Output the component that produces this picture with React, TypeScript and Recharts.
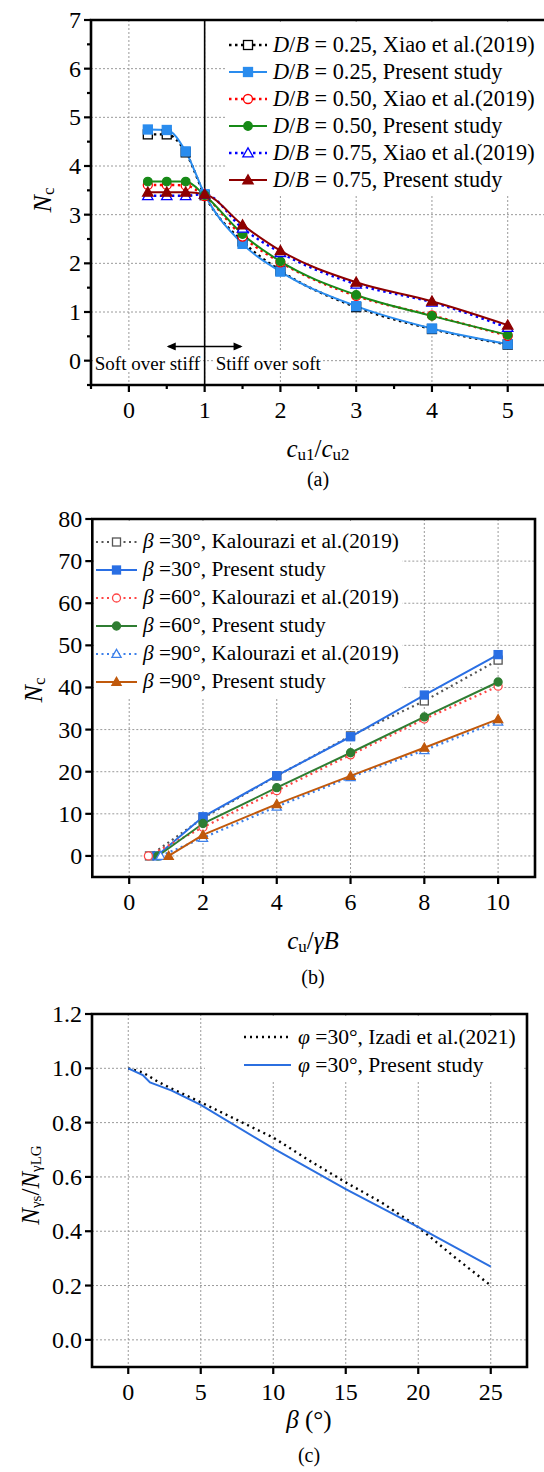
import React from 'react'
import {
  LineChart,
  Line,
  XAxis,
  YAxis,
  CartesianGrid,
  ReferenceLine,
  ReferenceDot,
  ReferenceArea,
  Legend,
} from 'recharts'

// Three stacked panels: (a) Nc vs cu1/cu2, (b) Nc vs cu/γB, (c) Nγs/NγLG vs β

const FONT = '"Liberation Serif", "Times New Roman", serif'
const GRID = '#9a9a9a'

// (a)
const ratioA = [0.25, 0.5, 0.75, 1, 1.5, 2, 3, 4, 5]
const xiao025 = [4.65, 4.65, 4.28, 3.4, 2.45, 1.85, 1.1, 0.65, 0.33]
const present025 = [4.75, 4.74, 4.3, 3.42, 2.4, 1.83, 1.12, 0.66, 0.34]
const xiao050 = [3.61, 3.61, 3.6, 3.38, 2.55, 2.02, 1.33, 0.93, 0.51]
const present050 = [3.68, 3.68, 3.68, 3.4, 2.6, 2.04, 1.35, 0.92, 0.53]
const xiao075 = [3.39, 3.39, 3.39, 3.42, 2.72, 2.22, 1.57, 1.2, 0.68]
const present075 = [3.46, 3.46, 3.46, 3.42, 2.79, 2.26, 1.61, 1.22, 0.73]
const xTicksA = [-0.5, 0, 0.5, 1, 1.5, 2, 2.5, 3, 3.5, 4, 4.5, 5, 5.5]
const yTicksA = [-0.5, 0, 0.5, 1, 1.5, 2, 2.5, 3, 3.5, 4, 4.5, 5, 5.5, 6, 6.5, 7]

// (b)
const kal30X = [0.55, 2, 4, 6, 8, 10]
const kal30Y = [0, 9.0, 19.0, 28.5, 36.8, 46.5]
const pre30X = [0.75, 2, 4, 6, 8, 10]
const pre30Y = [0, 9.3, 19.05, 28.3, 38.2, 47.8]
const kal60X = [0.52, 2, 4, 6, 8, 10]
const kal60Y = [0, 6.8, 15.5, 24.0, 32.5, 40.3]
const pre60X = [0.78, 2, 4, 6, 8, 10]
const pre60Y = [0, 7.7, 16.2, 24.5, 33.0, 41.3]
const kal90X = [0.85, 2, 4, 6, 8, 10]
const kal90Y = [0, 4.3, 11.7, 18.7, 25.1, 31.9]
const pre90X = [1.07, 2, 4, 6, 8, 10]
const pre90Y = [0, 5.0, 12.3, 19.0, 25.7, 32.5]
const xTicksB = [0, 2, 4, 6, 8, 10]
const yTicksB = [0, 10, 20, 30, 40, 50, 60, 70, 80]

// (c)
const betaIzadi = [0, 1, 2, 3, 5, 7.5, 10, 12.5, 15, 17.5, 20, 22.5, 25]
const ratioIzadi = [1.0, 0.985, 0.952, 0.925, 0.875, 0.81, 0.745, 0.66, 0.58, 0.505, 0.415, 0.305, 0.2]
const betaPresent = [0, 1, 1.5, 2, 3, 5, 10, 15, 20, 25]
const ratioPresent = [1.0, 0.975, 0.948, 0.938, 0.918, 0.865, 0.705, 0.555, 0.415, 0.27]
const xTicksC = [0, 5, 10, 15, 20, 25]
const yTicksC = [0, 0.2, 0.4, 0.6, 0.8, 1.0, 1.2]

const tableA = ratioA.map((r, i) => ({
  r,
  xiao025: xiao025[i],
  present025: present025[i],
  xiao050: xiao050[i],
  present050: present050[i],
  xiao075: xiao075[i],
  present075: present075[i],
}))

const pts = (xs: number[], ys: number[]) => xs.map((x, i) => ({ x, y: ys[i] }))

type Shape = 'square' | 'circle' | 'triangle' | null
type Series = {
  key: string
  color: string
  dash?: string
  width: number
  shape: Shape
  open: boolean
  size: number
  label: React.ReactNode
  data?: { x: number; y: number }[]
}

function Mark({ cx, cy, shape, color, open, size }: any) {
  if (cx == null || cy == null || !shape) return null
  const fill = open ? '#fff' : color
  const h = size / 2
  if (shape === 'square')
    return <rect x={cx - h} y={cy - h} width={size} height={size} fill={fill} stroke={color} strokeWidth={1.3} />
  if (shape === 'circle') return <circle cx={cx} cy={cy} r={h} fill={fill} stroke={color} strokeWidth={1.3} />
  const t = h * 1.15
  return (
    <polygon
      points={`${cx},${cy - t} ${cx - t},${cy + t * 0.75} ${cx + t},${cy + t * 0.75}`}
      fill={fill}
      stroke={color}
      strokeWidth={1.3}
    />
  )
}

const dotFor = (s: Series) => (p: any) =>
  <Mark key={`${s.key}-${p.index}`} cx={p.cx} cy={p.cy} shape={s.shape} color={s.color} open={s.open} size={s.size} />

const DB = (v: string, src: string) => (
  <>
    <i>D</i>/<i>B</i> = {v}, {src}
  </>
)
const BETA = (v: string, src: string) => (
  <>
    <i>β</i> ={v}°, {src}
  </>
)

const seriesA: Series[] = [
  { key: 'xiao025', color: '#000', dash: '2.5 3.5', width: 2.4, shape: 'square', open: true, size: 9, label: DB('0.25', 'Xiao et al.(2019)') },
  { key: 'present025', color: '#2a8cee', width: 2, shape: 'square', open: false, size: 9, label: DB('0.25', 'Present study') },
  { key: 'xiao050', color: '#ff0000', dash: '2.5 3.5', width: 2.4, shape: 'circle', open: true, size: 9, label: DB('0.50', 'Xiao et al.(2019)') },
  { key: 'present050', color: '#178a17', width: 2, shape: 'circle', open: false, size: 8.5, label: DB('0.50', 'Present study') },
  { key: 'xiao075', color: '#0000ff', dash: '2.5 3.5', width: 2.4, shape: 'triangle', open: true, size: 9, label: DB('0.75', 'Xiao et al.(2019)') },
  { key: 'present075', color: '#8e0000', width: 2, shape: 'triangle', open: false, size: 9, label: DB('0.75', 'Present study') },
]

const seriesB: Series[] = [
  { key: 'k30', color: '#555', dash: '2 3.5', width: 2.2, shape: 'square', open: true, size: 8, label: BETA('30', 'Kalourazi et al.(2019)'), data: pts(kal30X, kal30Y) },
  { key: 'p30', color: '#2a6fe4', width: 2, shape: 'square', open: false, size: 8, label: BETA('30', 'Present study'), data: pts(pre30X, pre30Y) },
  { key: 'k60', color: '#ff4545', dash: '2 3.5', width: 2.2, shape: 'circle', open: true, size: 8, label: BETA('60', 'Kalourazi et al.(2019)'), data: pts(kal60X, kal60Y) },
  { key: 'p60', color: '#2f7d32', width: 2, shape: 'circle', open: false, size: 8, label: BETA('60', 'Present study'), data: pts(pre60X, pre60Y) },
  { key: 'k90', color: '#3d80ea', dash: '2 3.5', width: 2.2, shape: 'triangle', open: true, size: 8, label: BETA('90', 'Kalourazi et al.(2019)'), data: pts(kal90X, kal90Y) },
  { key: 'p90', color: '#c0590c', width: 2, shape: 'triangle', open: false, size: 8, label: BETA('90', 'Present study'), data: pts(pre90X, pre90Y) },
]

const seriesC: Series[] = [
  {
    key: 'izadi', color: '#000', dash: '2 4', width: 2.4, shape: null, open: false, size: 0,
    label: (<><i>φ</i> =30°, Izadi et al.(2021)</>), data: pts(betaIzadi, ratioIzadi),
  },
  {
    key: 'present', color: '#2b6fe0', width: 2, shape: null, open: false, size: 0,
    label: (<><i>φ</i> =30°, Present study</>), data: pts(betaPresent, ratioPresent),
  },
]

function LegendBox({ items, rowH, symW, gap, fontSize, padTop, padLeft }: any) {
  return (
    <div style={{ background: '#fff', width: '100%', height: '100%', boxSizing: 'border-box', paddingTop: padTop, paddingLeft: padLeft, fontFamily: FONT, fontSize, color: '#000' }}>
      {items.map((s: Series) => (
        <div key={s.key} style={{ display: 'flex', alignItems: 'center', height: rowH, whiteSpace: 'nowrap' }}>
          <svg width={symW} height={16} style={{ flex: 'none', marginRight: gap }}>
            <line x1={1} x2={symW - 1} y1={8} y2={8} stroke={s.color} strokeWidth={s.width} strokeDasharray={s.dash} />
            <Mark cx={symW / 2} cy={8} shape={s.shape} color={s.color} open={s.open} size={s.size} />
          </svg>
          <span>{s.label}</span>
        </div>
      ))}
    </div>
  )
}

const xTick = (isMajor: (v: number) => boolean, fmt: (v: number) => string, size: number, dy: number) => (p: any) => {
  const { x, y, payload } = p
  const v = payload.value
  const big = isMajor(v)
  return (
    <g>
      <line x1={x} x2={x} y1={y} y2={y + (big ? 7 : 4)} stroke="#000" strokeWidth={2.2} />
      {big && (
        <text x={x} y={y + dy} textAnchor="middle" dominantBaseline="central" fontSize={size} fontFamily={FONT} fill="#000">
          {fmt(v)}
        </text>
      )}
    </g>
  )
}

const yTick = (isMajor: (v: number) => boolean, fmt: (v: number) => string, size: number) => (p: any) => {
  const { x, y, payload } = p
  const v = payload.value
  const big = isMajor(v)
  return (
    <g>
      <line x1={x} x2={x - (big ? 7 : 4)} y1={y} y2={y} stroke="#000" strokeWidth={2.2} />
      {big && (
        <text x={x - 10} y={y} textAnchor="end" dominantBaseline="central" fontSize={size} fontFamily={FONT} fill="#000">
          {fmt(v)}
        </text>
      )}
    </g>
  )
}

const Fixed = ({ children }: any) => <g fontFamily={FONT} fill="#000">{children}</g>

const TitleA = () => (
  <Fixed>
    <text x={318} y={448} textAnchor="middle" dominantBaseline="central" fontSize={25}>
      <tspan fontStyle="italic">c</tspan>
      <tspan fontSize={17} dy={6}>u1</tspan>
      <tspan dy={-6}>/</tspan>
      <tspan fontStyle="italic">c</tspan>
      <tspan fontSize={17} dy={6}>u2</tspan>
    </text>
    <text x={318} y={479} textAnchor="middle" dominantBaseline="central" fontSize={20}>(a)</text>
  </Fixed>
)
const YTitleA = () => (
  <Fixed>
    <text x={42} y={200} transform="rotate(-90 42 200)" textAnchor="middle" dominantBaseline="central" fontSize={26}>
      <tspan fontStyle="italic">N</tspan>
      <tspan fontSize={17} dy={6}>c</tspan>
    </text>
  </Fixed>
)
const TitleB = () => (
  <Fixed>
    <text x={313} y={440} textAnchor="middle" dominantBaseline="central" fontSize={25}>
      <tspan fontStyle="italic">c</tspan>
      <tspan fontSize={17} dy={6}>u</tspan>
      <tspan dy={-6}>/</tspan>
      <tspan fontStyle="italic">γB</tspan>
    </text>
    <text x={313} y={477} textAnchor="middle" dominantBaseline="central" fontSize={20}>(b)</text>
  </Fixed>
)
const YTitleB = () => (
  <Fixed>
    <text x={33} y={190} transform="rotate(-90 33 190)" textAnchor="middle" dominantBaseline="central" fontSize={26}>
      <tspan fontStyle="italic">N</tspan>
      <tspan fontSize={17} dy={6}>c</tspan>
    </text>
  </Fixed>
)
const TitleC = () => (
  <Fixed>
    <text x={309} y={419} textAnchor="middle" dominantBaseline="central" fontSize={25}>
      <tspan fontStyle="italic">β</tspan>
      <tspan> (°)</tspan>
    </text>
    <text x={309} y={455} textAnchor="middle" dominantBaseline="central" fontSize={20}>(c)</text>
  </Fixed>
)
const YTitleC = () => (
  <Fixed>
    <text x={30} y={185} transform="rotate(-90 30 185)" textAnchor="middle" dominantBaseline="central" fontSize={25}>
      <tspan fontStyle="italic">N</tspan>
      <tspan fontSize={15} dy={6}>γs</tspan>
      <tspan dy={-6}>/</tspan>
      <tspan fontStyle="italic">N</tspan>
      <tspan fontSize={15} dy={6}>γLG</tspan>
    </text>
  </Fixed>
)

const arrowHead = (dir: 1 | -1) => (p: any) =>
  <polygon points={`${p.cx},${p.cy} ${p.cx - dir * 9},${p.cy - 4} ${p.cx - dir * 9},${p.cy + 4}`} fill="#000" />

const note = (txt: string, w: number) => (p: any) => (
  <g>
    <rect x={p.cx - 1} y={p.cy - 10} width={w} height={20} fill="#fff" />
    <text x={p.cx} y={p.cy + 3} dominantBaseline="central" fontSize={19} fontFamily={FONT} fill="#000">{txt}</text>
  </g>
)

const isInt = (v: number) => Number.isInteger(v)

function ChartA() {
  return (
    <LineChart width={548} height={500} data={tableA} margin={{ top: 20, right: 2.4, bottom: 75, left: 31 }}>
      <CartesianGrid stroke={GRID} strokeDasharray="2 2" verticalValues={[0, 1, 2, 3, 4, 5]} horizontalValues={[0, 1, 2, 3, 4, 5, 6, 7]} />
      <XAxis dataKey="r" type="number" domain={[-0.5, 5.5]} ticks={xTicksA} interval={0} allowDataOverflow height={40}
        axisLine={false} tickLine={false} tickSize={0} tickMargin={0}
        tick={xTick((v) => isInt(v) && v >= 0 && v <= 5, (v) => String(v), 24, 25)} label={<TitleA />} />
      <YAxis type="number" domain={[-0.5, 7]} ticks={yTicksA} interval={0} allowDataOverflow width={60}
        axisLine={false} tickLine={false} tickSize={0} tickMargin={0}
        tick={yTick((v) => isInt(v) && v >= 0, (v) => String(v), 24)} label={<YTitleA />} />
      <ReferenceLine x={1} stroke="#000" strokeWidth={1.6} />
      <ReferenceLine segment={[{ x: 0.52, y: 0.29 }, { x: 1.48, y: 0.29 }]} stroke="#000" strokeWidth={1.6} />
      <ReferenceDot x={0.5} y={0.29} r={4} shape={arrowHead(-1)} />
      <ReferenceDot x={1.5} y={0.29} r={4} shape={arrowHead(1)} />
      <ReferenceDot x={-0.45} y={0} r={1} shape={note('Soft over stiff', 106)} />
      <ReferenceDot x={1.145} y={0} r={1} shape={note('Stiff over soft', 106)} />
      {seriesA.map((s) => (
        <Line key={s.key} dataKey={s.key} type="monotone" stroke={s.color} strokeWidth={s.width} strokeDasharray={s.dash}
          dot={dotFor(s)} activeDot={false} isAnimationActive={false} />
      ))}
      <ReferenceArea x1={-0.5} x2={5.5} y1={-0.5} y2={7} fill="none" stroke="#000" strokeWidth={2.6} />
      <Legend layout="vertical" align="center" verticalAlign="middle"
        wrapperStyle={{ left: 227, top: 22, width: 321, height: 173 }}
        content={() => <LegendBox items={seriesA} rowH={27} symW={40} gap={5} fontSize={22.3} padTop={9.5} padLeft={1} />} />
    </LineChart>
  )
}

function ChartB() {
  return (
    <LineChart width={544} height={500} margin={{ top: 19, right: 9, bottom: 83, left: 32.3 }}>
      <CartesianGrid stroke={GRID} strokeDasharray="2 2" verticalValues={xTicksB} horizontalValues={yTicksB} />
      <XAxis dataKey="x" type="number" domain={[-1, 11]} ticks={xTicksB} interval={0} allowDataOverflow height={40}
        axisLine={false} tickLine={false} tickSize={0} tickMargin={0}
        tick={xTick(() => true, (v) => String(v), 24, 25)} label={<TitleB />} />
      <YAxis type="number" domain={[-5, 80]} ticks={yTicksB} interval={0} allowDataOverflow width={60}
        axisLine={false} tickLine={false} tickSize={0} tickMargin={0}
        tick={yTick(() => true, (v) => String(v), 24)} label={<YTitleB />} />
      {seriesB.map((s) => (
        <Line key={s.key} data={s.data} dataKey="y" type="linear" stroke={s.color} strokeWidth={s.width} strokeDasharray={s.dash}
          dot={dotFor(s)} activeDot={false} isAnimationActive={false} />
      ))}
      <ReferenceArea x1={-1} x2={11} y1={-5} y2={80} fill="none" stroke="#000" strokeWidth={2.6} />
      <Legend layout="vertical" align="center" verticalAlign="middle"
        wrapperStyle={{ left: 94, top: 21, width: 308, height: 176 }}
        content={() => <LegendBox items={seriesB} rowH={28} symW={43} gap={5} fontSize={21.3} padTop={6.5} padLeft={1} />} />
    </LineChart>
  )
}

function ChartC() {
  return (
    <LineChart width={544} height={472} margin={{ top: 14, right: 17, bottom: 65, left: 32 }}>
      <CartesianGrid stroke={GRID} strokeDasharray="2 2" verticalValues={xTicksC} horizontalValues={yTicksC} />
      <XAxis dataKey="x" type="number" domain={[-2.5, 27.5]} ticks={xTicksC} interval={0} allowDataOverflow height={40}
        axisLine={false} tickLine={false} tickSize={0} tickMargin={0}
        tick={xTick(() => true, (v) => String(v), 24, 25)} label={<TitleC />} />
      <YAxis type="number" domain={[-0.1, 1.2]} ticks={yTicksC} interval={0} allowDataOverflow width={60}
        axisLine={false} tickLine={false} tickSize={0} tickMargin={0}
        tick={yTick(() => true, (v) => v.toFixed(1), 24)} label={<YTitleC />} />
      {seriesC.map((s) => (
        <Line key={s.key} data={s.data} dataKey="y" type="linear" stroke={s.color} strokeWidth={s.width} strokeDasharray={s.dash}
          dot={false} activeDot={false} isAnimationActive={false} />
      ))}
      <ReferenceArea x1={-2.5} x2={27.5} y1={-0.1} y2={1.2} fill="none" stroke="#000" strokeWidth={2.6} />
      <Legend layout="vertical" align="center" verticalAlign="middle"
        wrapperStyle={{ left: 205, top: 16, width: 317, height: 65 }}
        content={() => <LegendBox items={seriesC} rowH={28} symW={49} gap={6} fontSize={21.5} padTop={7} padLeft={38} />} />
    </LineChart>
  )
}

export default function App() {
  return (
    <div style={{ position: 'absolute', left: 0, top: 0, width: 544, height: 1472, overflow: 'hidden', background: '#fff' }}>
      <div style={{ position: 'absolute', left: 0, top: 0 }}>
        <ChartA />
      </div>
      <div style={{ position: 'absolute', left: 0, top: 500 }}>
        <ChartB />
      </div>
      <div style={{ position: 'absolute', left: 0, top: 1000 }}>
        <ChartC />
      </div>
    </div>
  )
}
